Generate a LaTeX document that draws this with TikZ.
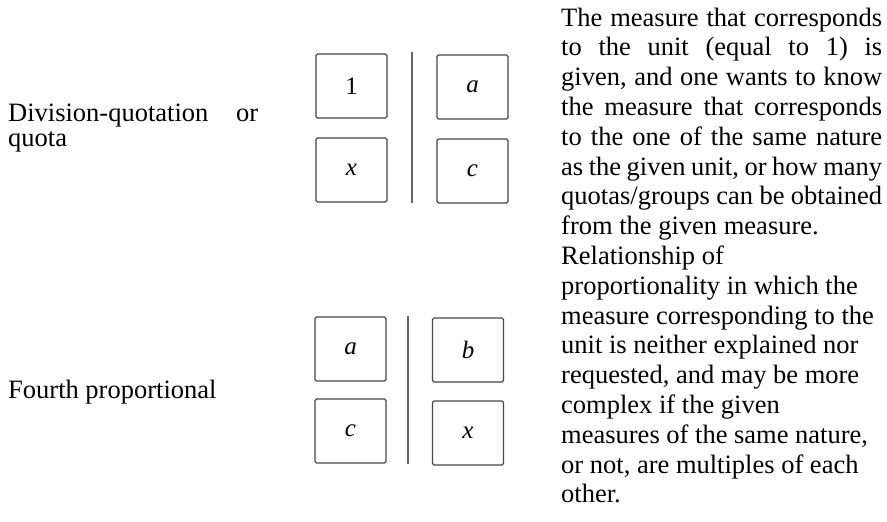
\documentclass[tikz,border=0pt]{standalone}
\usepackage{fontspec}
\setmainfont{Liberation Serif}
\begin{document}
\begin{tikzpicture}[x=1pt,y=-1pt,
  valbox/.style={draw=black!72,line width=1.3pt,rounded corners=1.5pt,minimum width=71pt,minimum height=64pt,inner sep=0pt,font=\fontsize{25}{25}\selectfont},
  sepline/.style={draw=black!60,line width=1.3pt},
  txt/.style={anchor=base west,inner sep=0pt,font=\fontsize{26.5}{30}\selectfont},
  jl/.style={txt}]
\useasboundingbox (0,0) rectangle (887,522);
% left labels
\node[txt] (l1) at (8,121) {\makebox[250pt][s]{Division-quotation or}};
\node[txt] (l2) at (8,146) {quota};
\node[txt] (l3) at (8,398) {Fourth proportional};
% top group
\node[valbox] (t1) at (351.5,86) {1};
\node[valbox] (t2) at (351.5,170) {\textit{x}};
\node[valbox] (t3) at (472.5,87) {\textit{a}};
\node[valbox] (t4) at (472.5,171) {\textit{c}};
\coordinate (tv1) at (412,52);
\coordinate (tv2) at (412,203);
\draw[sepline] (tv1) -- (tv2);
% bottom group
\node[valbox] (u1) at (350.5,349) {\textit{a}};
\node[valbox] (u2) at (350.5,431) {\textit{c}};
\node[valbox] (u3) at (468,350) {\textit{b}};
\node[valbox] (u4) at (468,433) {\textit{x}};
\coordinate (uv1) at (408,316);
\coordinate (uv2) at (408,464);
\draw[sepline] (uv1) -- (uv2);
% right text
\node[txt] (r0) at (561,26.0) {\makebox[321pt][s]{The measure that corresponds}};
\node[txt] (r1) at (561,55.8) {\makebox[321pt][s]{to the unit (equal to 1) is}};
\node[txt] (r2) at (561,85.6) {\makebox[321pt][s]{given, and one wants to know}};
\node[txt] (r3) at (561,115.4) {\makebox[321pt][s]{the measure that corresponds}};
\node[txt] (r4) at (561,145.2) {\makebox[321pt][s]{to the one of the same nature}};
\node[txt] (r5) at (561,175.0) {\makebox[321pt][s]{as the given unit, or how many}};
\node[txt] (r6) at (561,204.8) {\makebox[321pt][s]{quotas/groups can be obtained}};
\node[txt] (r7) at (561,234.6) {from the given measure.};
\node[txt] (r8) at (561,264.4) {Relationship of};
\node[txt] (r9) at (561,294.2) {proportionality in which the};
\node[txt] (r10) at (561,324.0) {measure corresponding to the};
\node[txt] (r11) at (561,353.8) {unit is neither explained nor};
\node[txt] (r12) at (561,383.6) {requested, and may be more};
\node[txt] (r13) at (561,413.4) {complex if the given};
\node[txt] (r14) at (561,443.2) {measures of the same nature,};
\node[txt] (r15) at (561,473.0) {or not, are multiples of each};
\node[txt] (r16) at (561,502.8) {other.};
\end{tikzpicture}
\end{document}
